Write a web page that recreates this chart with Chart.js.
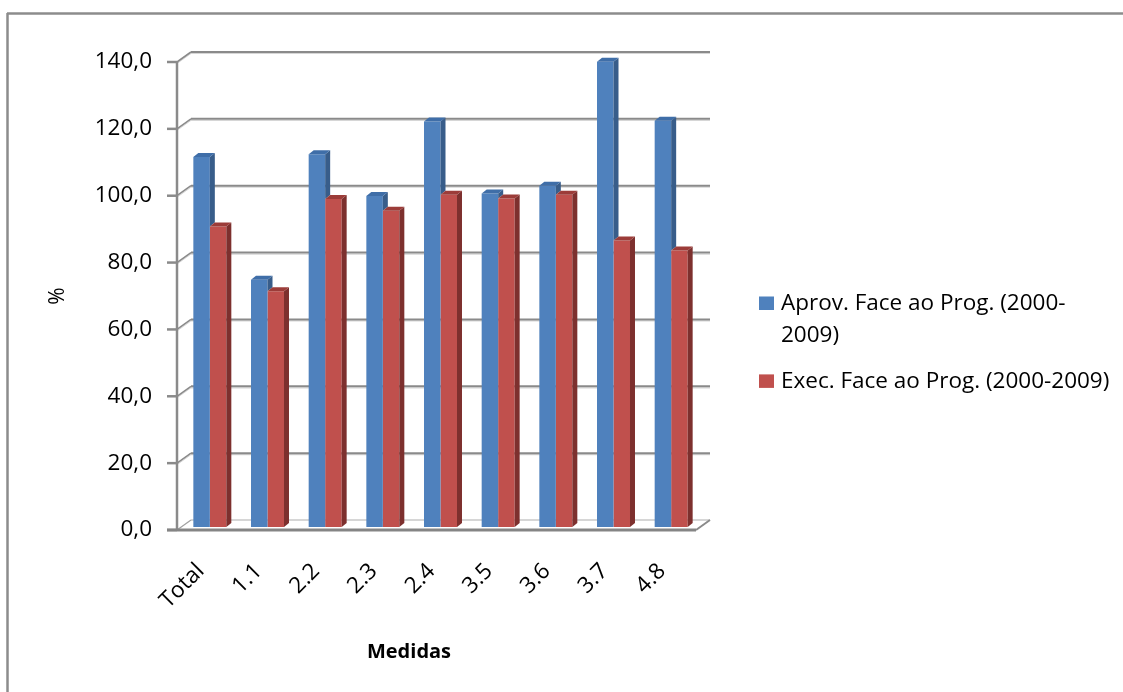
<!DOCTYPE html>
<html>
<head>
<meta charset="utf-8">
<title>Medidas – Aprov. e Exec. face ao Prog. (2000-2009)</title>
<script src="https://cdn.jsdelivr.net/npm/chart.js@4.4.1/dist/chart.umd.min.js"></script>
<style>
  html, body { margin: 0; padding: 0; background: #ffffff; }
  #wrap { width: 1123px; height: 692px; }
  canvas { display: block; }
</style>
</head>
<body>
<div id="wrap"><canvas id="chart" width="1123" height="692"></canvas></div>
<script>
// ---- data ----
const categories = ['Total', '1.1', '2.2', '2.3', '2.4', '3.5', '3.6', '3.7', '4.8'];
const seriesNames = ['Aprov. Face ao Prog. (2000-2009)', 'Exec. Face ao Prog. (2000-2009)'];
const aprovValues = [110.7, 74.0, 111.5, 99.0, 121.3, 99.8, 102.1, 139.2, 121.5];
const execValues  = [89.9, 70.5, 98.1, 94.6, 99.4, 98.3, 99.4, 85.7, 82.7];
const yTickValues = [0, 20, 40, 60, 80, 100, 120, 140];
const xAxisTitle = 'Medidas';
const yAxisTitle = '%';

// ---- look ----
const FONT = '"Open Sans", "Noto Sans", sans-serif';
const FONT_SIZE = 22.5;
const TITLE_SIZE = 20;
const COLORS = {
  aprov: { front: '#4F81BD', side: '#385D8A', top: '#3F6EA8' },
  exec:  { front: '#C0504D', side: '#7D302E', top: '#9C3C39' }
};
const WALL = { dx: 14, dy: -10 };       // depth of the back wall
const BAR_SHIFT = { dx: 4, dy: -3 };    // bars sit a little behind the front plane
const BAR_DEPTH = { dx: 5, dy: -4 };    // thickness of each bar
const GRID = '#8a8a8a';
const GRID_SHADE = '#d6d6d6';

Chart.defaults.font.family = FONT;
Chart.defaults.font.size = FONT_SIZE;
Chart.defaults.color = '#000000';

function poly(ctx, pts, fill) {
  ctx.beginPath();
  ctx.moveTo(pts[0][0], pts[0][1]);
  for (let i = 1; i < pts.length; i++) ctx.lineTo(pts[i][0], pts[i][1]);
  ctx.closePath();
  ctx.fillStyle = fill;
  ctx.fill();
}
function line(ctx, x1, y1, x2, y2, color, w) {
  ctx.beginPath();
  ctx.moveTo(x1, y1);
  ctx.lineTo(x2, y2);
  ctx.strokeStyle = color;
  ctx.lineWidth = w;
  ctx.stroke();
}

// Walls, floor, gridlines, 3D bar faces, legend and frame
const box3d = {
  id: 'box3d',
  beforeDraw(chart) {
    const ctx = chart.ctx;
    ctx.save();
    ctx.fillStyle = '#ffffff';
    ctx.fillRect(0, 0, chart.width, chart.height);
    // outer frame
    line(ctx, 7, 13.5, chart.width, 13.5, '#8c8c8c', 2.5);
    line(ctx, 7.5, 13, 7.5, chart.height, '#8c8c8c', 2.5);
    ctx.restore();
  },
  beforeDatasetsDraw(chart) {
    const ctx = chart.ctx;
    const a = chart.chartArea;
    const y = chart.scales.y;
    ctx.save();
    ctx.lineCap = 'butt';
    // gridlines on the side wall and back wall
    y.ticks.forEach(t => {
      const py = y.getPixelForValue(t.value);
      if (t.value === 0) return;
      const by = py + WALL.dy;
      line(ctx, a.left, py + 1.5, a.left + WALL.dx, by + 1.5, GRID_SHADE, 1);
      line(ctx, a.left + WALL.dx, by + 1.5, a.right + WALL.dx, by + 1.5, GRID_SHADE, 1.2);
      line(ctx, a.left, py, a.left + WALL.dx, by, GRID, 1.6);
      line(ctx, a.left + WALL.dx, by, a.right + WALL.dx, by, GRID, 2);
    });
    // floor
    const fy = a.bottom;
    line(ctx, a.left + WALL.dx, fy + WALL.dy, a.right + WALL.dx, fy + WALL.dy, '#c8c8c8', 1.5);
    line(ctx, a.left, fy, a.left + WALL.dx, fy + WALL.dy, '#a0a0a0', 1.2);
    line(ctx, a.right, fy, a.right + WALL.dx, fy + WALL.dy, '#8a8a8a', 2);
    // front value axis and its tick marks
    line(ctx, a.left, a.top, a.left, fy, '#8a8a8a', 2.5);
    y.ticks.forEach(t => {
      const py = y.getPixelForValue(t.value);
      line(ctx, a.left - 10, py, a.left, py, '#8a8a8a', 2.5);
    });
    line(ctx, a.left - 10, fy, a.right, fy, '#858585', 3);
    ctx.restore();
    // the bars themselves are drawn slightly behind the front plane
    ctx.save();
    ctx.translate(BAR_SHIFT.dx, BAR_SHIFT.dy);
  },
  afterDatasetsDraw(chart) {
    const ctx = chart.ctx;
    const m0 = chart.getDatasetMeta(0);
    const m1 = chart.getDatasetMeta(1);
    const d = BAR_DEPTH;
    const faces = (p, c, sideBottom) => {
      const l = p.x - p.width / 2, r = p.x + p.width / 2, t = p.y;
      if (sideBottom > t) {
        poly(ctx, [[r, t], [r + d.dx, t + d.dy], [r + d.dx, sideBottom + d.dy], [r, sideBottom]], c.side);
      }
      poly(ctx, [[l, t], [l + d.dx, t + d.dy], [r + d.dx, t + d.dy], [r, t]], c.top);
    };
    for (let i = 0; i < categories.length; i++) {
      const b = m0.data[i].getProps(['x', 'y', 'base', 'width'], true);
      const e = m1.data[i].getProps(['x', 'y', 'base', 'width'], true);
      // left bar's side face is only visible above the neighbouring bar
      faces(b, COLORS.aprov, Math.min(e.y, b.base));
      faces(e, COLORS.exec, e.base);
    }
    ctx.restore();
  },
  afterDraw(chart) {
    const ctx = chart.ctx;
    ctx.save();
    // axis title for the categories
    ctx.font = 'bold ' + TITLE_SIZE + 'px ' + FONT;
    ctx.fillStyle = '#000';
    ctx.textAlign = 'center';
    ctx.textBaseline = 'alphabetic';
    ctx.fillText(xAxisTitle, 409, 658);

    // legend
    ctx.font = FONT_SIZE + 'px ' + FONT;
    ctx.textAlign = 'left';
    const maxW = 336;
    let base = 310;
    chart.data.datasets.forEach(ds => {
      const words = ds.label.split(/(?<=[\s-])/);
      const lines = [];
      let cur = '';
      words.forEach(w => {
        const test = cur + w;
        if (cur && ctx.measureText(test.trimEnd()).width > maxW) {
          lines.push(cur.trimEnd());
          cur = w;
        } else cur = test;
      });
      if (cur) lines.push(cur.trimEnd());
      ctx.fillStyle = ds.backgroundColor;
      ctx.fillRect(759, base - 13.5, 15, 13.5);
      ctx.fillStyle = '#000';
      lines.forEach((ln, k) => ctx.fillText(ln, 781, base + k * 31.6));
      base += (lines.length - 1) * 31.6 + 46.3;
    });
    ctx.restore();
  }
};

new Chart(document.getElementById('chart'), {
  type: 'bar',
  data: {
    labels: categories,
    datasets: [
      { label: seriesNames[0], data: aprovValues, backgroundColor: COLORS.aprov.front,
        borderWidth: 0, categoryPercentage: 0.572, barPercentage: 1, clip: false },
      { label: seriesNames[1], data: execValues, backgroundColor: COLORS.exec.front,
        borderWidth: 0, categoryPercentage: 0.572, barPercentage: 1, clip: false }
    ]
  },
  options: {
    responsive: false,
    animation: false,
    devicePixelRatio: 1,
    layout: { padding: { left: 0, top: 62, right: 427, bottom: 0 } },
    plugins: { legend: { display: false }, tooltip: { enabled: false } },
    scales: {
      x: {
        grid: { display: false },
        border: { display: false },
        ticks: { autoSkip: false, minRotation: 45, maxRotation: 45, padding: 20, labelOffset: -5 },
        afterFit(scale) { scale.height = 162; }
      },
      y: {
        min: 0, max: 140,
        grid: { display: false },
        border: { display: false },
        afterBuildTicks(scale) { scale.ticks = yTickValues.map(v => ({ value: v })); },
        ticks: { padding: 17, callback: v => v.toFixed(1).replace('.', ',') },
        title: { display: true, text: yAxisTitle, font: { size: TITLE_SIZE + 1 }, padding: { top: 45, bottom: 0 } },
        afterFit(scale) { scale.width = 177; }
      }
    }
  },
  plugins: [box3d]
});
</script>
</body>
</html>
